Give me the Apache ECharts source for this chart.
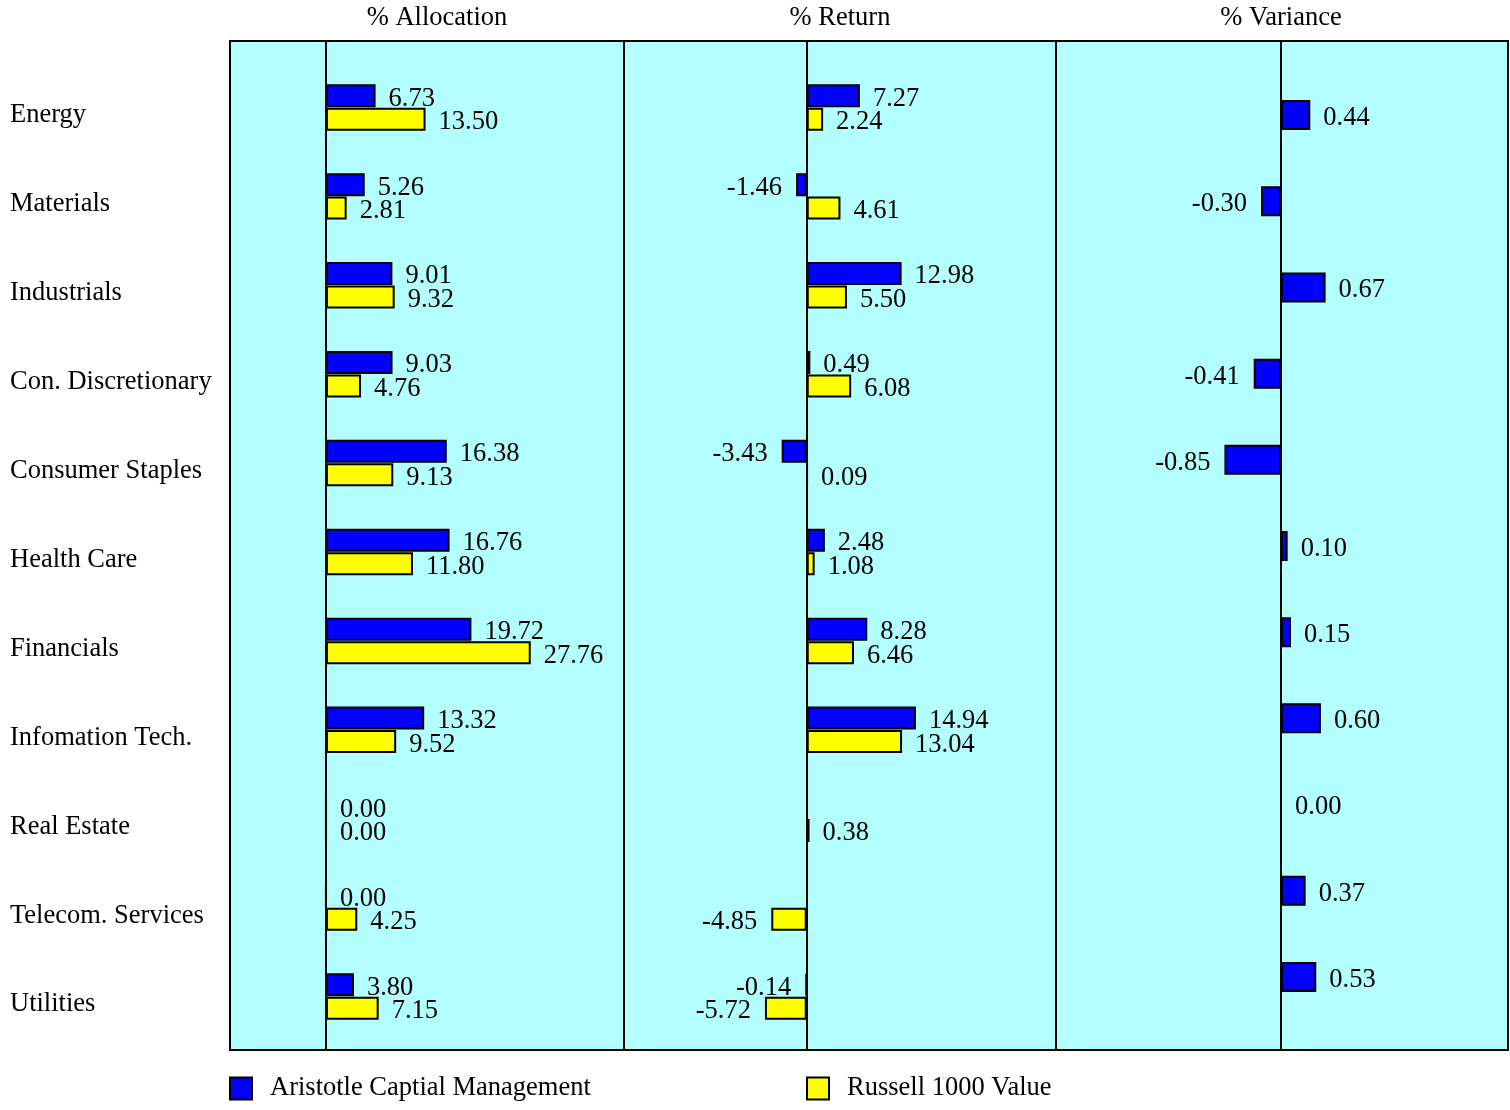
<!DOCTYPE html>
<html><head><meta charset="utf-8">
<script src="https://cdn.jsdelivr.net/npm/echarts@6/dist/echarts.min.js"></script>
<style>html,body{margin:0;padding:0;background:#fff}#c{width:1510px;height:1110px}</style>
</head><body><div id="c"></div>
<script>
const categories = ['Energy','Materials','Industrials','Con. Discretionary','Consumer Staples','Health Care','Financials','Infomation Tech.','Real Estate','Telecom. Services','Utilities'];
const allocACM = [6.73, 5.26, 9.01, 9.03, 16.38, 16.76, 19.72, 13.32, 0.00, 0.00, 3.80];
const allocR1000V = [13.50, 2.81, 9.32, 4.76, 9.13, 11.80, 27.76, 9.52, 0.00, 4.25, 7.15];
const returnACM = [7.27, -1.46, 12.98, 0.49, -3.43, 2.48, 8.28, 14.94, null, null, -0.14];
const returnR1000V = [2.24, 4.61, 5.50, 6.08, 0.09, 1.08, 6.46, 13.04, 0.38, -4.85, -5.72];
const varianceACM = [0.44, -0.30, 0.67, -0.41, -0.85, 0.10, 0.15, 0.60, 0.00, 0.37, 0.53];
const panelTitles = ['% Allocation', '% Return', '% Variance'];
const seriesNames = ['Aristotle Captial Management', 'Russell 1000 Value'];

const FONT = '"Liberation Serif","Times New Roman",serif';
const FS = 26.5;
const BLUE = '#0000FF', YELLOW = '#FFFF00', BG = '#B3FFFF';

const panels = [
  {left: 230, width: 394, min: -13, max: 40.4, titleX: 437},
  {left: 624, width: 432, min: -25, max: 34.1, titleX: 840},
  {left: 1056, width: 452, min: -3.38, max: 3.41, titleX: 1281}
];
const frameTop = 41, frameHeight = 1009;
const pairTop = 63, pairHeight = 978;
const varTop = 72, varHeight = 948;

function items(arr) {
  return arr.map(v => v === null ? null : ({
    value: v,
    label: {position: v < 0 ? 'left' : 'right', distance: v < 0 ? 14 : 13}
  }));
}
const labelCfg = {
  show: true, color: '#000', fontFamily: FONT, fontSize: FS, offset: [0, 3],
  formatter: p => (p.value === null || p.value === undefined) ? '' : Number(p.value).toFixed(2)
};
const barStyle = c => ({color: c, borderColor: '#000', borderWidth: 2});

const grid = [], xAxis = [], yAxis = [];
panels.forEach((p, i) => {
  grid.push({left: p.left, width: p.width, top: frameTop, height: frameHeight, show: true,
    backgroundColor: BG, borderColor: '#000', borderWidth: 2, z: 0});
  xAxis.push({gridIndex: i, type: 'value', min: p.min, max: p.max, show: false});
  yAxis.push({gridIndex: i, type: 'value', min: 0, max: 1, show: true,
    axisLine: {show: true, onZero: true, lineStyle: {color: '#000', width: 2}},
    axisTick: {show: false}, axisLabel: {show: false}, splitLine: {show: false}});
});
panels.forEach((p, i) => {
  const isVar = i === 2;
  grid.push({left: p.left, width: p.width, top: isVar ? varTop : pairTop,
    height: isVar ? varHeight : pairHeight, show: false});
  xAxis.push({gridIndex: 3 + i, type: 'value', min: p.min, max: p.max, show: false});
  yAxis.push({gridIndex: 3 + i, type: 'category', data: categories, inverse: true,
    show: i === 0,
    axisLine: {show: false, onZero: false}, axisTick: {show: false}, splitLine: {show: false},
    axisLabel: {show: i === 0, interval: 0, align: 'left', margin: 220, color: '#000',
      fontFamily: FONT, fontSize: FS, verticalAlign: 'top', lineHeight: 16}});
});

const series = [
  {type: 'bar', name: seriesNames[0], xAxisIndex: 3, yAxisIndex: 3, data: items(allocACM),
    barWidth: 23, barGap: '2%', itemStyle: barStyle(BLUE), label: labelCfg},
  {type: 'bar', name: seriesNames[1], xAxisIndex: 3, yAxisIndex: 3, data: items(allocR1000V),
    barWidth: 23, barGap: '2%', itemStyle: barStyle(YELLOW), label: labelCfg},
  {type: 'bar', name: seriesNames[0], xAxisIndex: 4, yAxisIndex: 4, data: items(returnACM),
    barWidth: 23, barGap: '2%', itemStyle: barStyle(BLUE), label: labelCfg},
  {type: 'bar', name: seriesNames[1], xAxisIndex: 4, yAxisIndex: 4, data: items(returnR1000V),
    barWidth: 23, barGap: '2%', itemStyle: barStyle(YELLOW), label: labelCfg},
  {type: 'bar', name: seriesNames[0], xAxisIndex: 5, yAxisIndex: 5, data: items(varianceACM),
    barWidth: 30, itemStyle: barStyle(BLUE), label: labelCfg}
];

const title = panels.map((p, i) => ({
  text: panelTitles[i], left: p.titleX, top: 18, padding: 0,
  textAlign: 'center', textVerticalAlign: 'middle',
  textStyle: {fontFamily: FONT, fontSize: FS, fontWeight: 'normal', color: '#000'}
}));

const legendBase = {
  top: 1075, padding: 0, itemWidth: 22, itemHeight: 22, orient: 'horizontal', icon: 'rect',
  textStyle: {fontFamily: FONT, fontSize: FS, color: '#000', padding: [0, 0, 0, 13]}
};
const legend = [
  Object.assign({}, legendBase, {data: [seriesNames[0]], left: 229}),
  Object.assign({}, legendBase, {data: [seriesNames[1]], left: 806})
];

const chart = echarts.init(document.getElementById('c'), null, {renderer: 'canvas'});
chart.setOption({animation: false, backgroundColor: '#fff', title, legend, grid, xAxis, yAxis, series});
</script>
</body></html>
